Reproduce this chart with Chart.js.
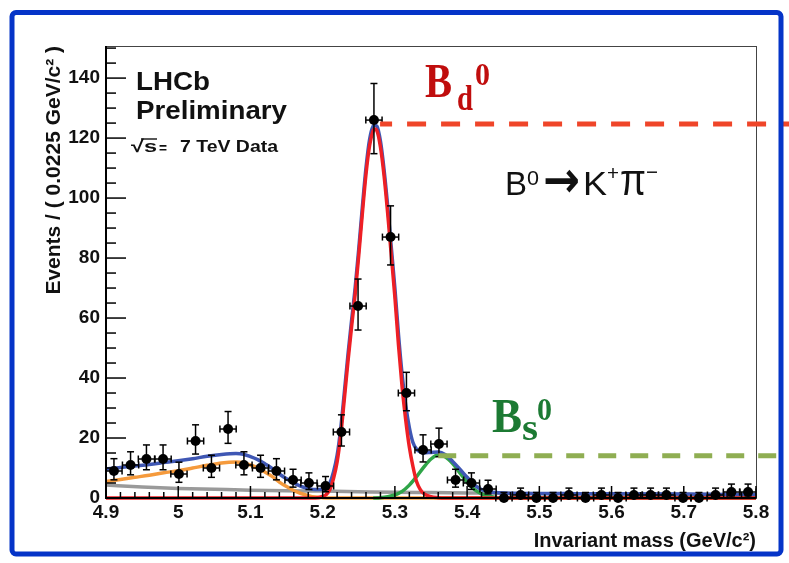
<!DOCTYPE html>
<html>
<head>
<meta charset="utf-8">
<script src="https://cdn.jsdelivr.net/npm/chart.js@4.4.1/dist/chart.umd.min.js"></script>
<style>
  html, body { margin: 0; padding: 0; background: #fff; }
  canvas { display: block; }
</style>
</head>
<body>
<canvas id="massChart" width="789" height="563"></canvas>
<script>
// B0 -> K+ pi- candidates, 0.0225 GeV/c^2 bins
const binCenters = [4.911, 4.934, 4.956, 4.979, 5.001, 5.024, 5.046, 5.069, 5.091, 5.114,
                    5.136, 5.159, 5.181, 5.204, 5.226, 5.249, 5.271, 5.294, 5.316, 5.339,
                    5.361, 5.384, 5.406, 5.429, 5.451, 5.474, 5.496, 5.519, 5.541, 5.564,
                    5.586, 5.609, 5.631, 5.654, 5.676, 5.699, 5.721, 5.744, 5.766, 5.789];
const eventCounts = [9, 11, 13, 13, 8, 19, 10, 23, 11, 10,
                     9, 6, 5, 4, 22, 64, 126, 87, 35, 16,
                     18, 6, 5, 3, 0, 1, 0, 0, 1, 0,
                     1, 0, 1, 1, 1, 0, 0, 1, 2, 2];
const errLow = [2.94, 3.27, 3.58, 3.58, 2.77, 4.35, 3.11, 4.78, 3.27, 3.11,
                2.94, 2.38, 2.16, 1.91, 4.67, 8.0, 11.2, 9.3, 5.9, 3.98,
                4.23, 2.38, 2.16, 1.63, 0, 0.83, 0, 0, 0.83, 0,
                0.83, 0, 0.83, 0.83, 0.83, 0, 0, 0.83, 1.29, 1.29];
const errHigh = [4.11, 4.41, 4.69, 4.69, 3.94, 5.40, 4.26, 5.83, 4.41, 4.26,
                 4.11, 3.58, 3.38, 3.16, 5.73, 9.0, 12.2, 10.4, 6.9, 5.06,
                 5.29, 3.58, 3.38, 2.92, 1.84, 2.30, 1.84, 1.84, 2.30, 1.84,
                 2.30, 1.84, 2.30, 2.30, 2.30, 1.84, 1.84, 2.30, 2.64, 2.64];
const binHalfWidth = 0.01125;

// fit components
const combMass = [4.90, 4.95, 5.00, 5.05, 5.10, 5.15, 5.20, 5.25, 5.30, 5.35,
                  5.40, 5.45, 5.50, 5.55, 5.60, 5.65, 5.70, 5.75, 5.80];
const combValues = [4.3, 3.7, 3.2, 2.9, 2.6, 2.4, 2.3, 2.1, 1.9, 1.8,
                    1.7, 1.6, 1.45, 1.4, 1.35, 1.3, 1.25, 1.15, 1.05];

const partRecoMass = [4.90, 4.92, 4.94, 4.96, 4.98, 5.00, 5.02, 5.04, 5.06, 5.08, 5.09, 5.10,
                      5.11, 5.12, 5.13, 5.14, 5.15, 5.16, 5.17, 5.18, 5.19, 5.20, 5.21, 5.80];
const partRecoValues = [5.5, 6.2, 6.9, 7.6, 8.4, 9.1, 10.0, 10.9, 11.7, 12.0, 11.8, 11.0,
                        10.0, 8.7, 7.2, 5.3, 3.8, 2.5, 1.5, 0.8, 0.3, 0.1, 0, 0];

const bsMass = [5.27, 5.28, 5.29, 5.30, 5.31, 5.32, 5.33, 5.34, 5.35, 5.36,
                5.37, 5.38, 5.39, 5.40, 5.41, 5.42, 5.43, 5.44, 5.45, 5.80];
const bsValues = [0, 0.1, 0.4, 1.0, 2.2, 4.3, 7.1, 10.3, 13.0, 14.3,
                  13.7, 11.5, 8.4, 5.3, 2.9, 1.4, 0.6, 0.2, 0, 0];

const bdMass = [4.90, 5.19, 5.20, 5.205, 5.21, 5.215, 5.22, 5.225, 5.23, 5.235, 5.24, 5.245,
                5.25, 5.255, 5.26, 5.265, 5.27, 5.272, 5.275, 5.28, 5.285, 5.29, 5.295, 5.30,
                5.305, 5.31, 5.315, 5.32, 5.325, 5.33, 5.335, 5.34, 5.35, 5.36, 5.37, 5.80];
const bdValues = [0, 0, 0.5, 1.2, 2.8, 6.5, 12, 21, 33, 45.5, 57, 68,
                  81, 95, 108, 117.5, 122.5, 123, 122.5, 117, 107.5, 95, 81, 67,
                  51, 37, 26, 17, 10.5, 5.5, 2.9, 1.5, 0.4, 0.1, 0, 0];

const totalMass = [4.90, 4.92, 4.94, 4.96, 4.98, 5.00, 5.02, 5.04, 5.06, 5.08,
                   5.09, 5.10, 5.11, 5.12, 5.13, 5.14, 5.15, 5.16, 5.17, 5.18, 5.19, 5.20,
                   5.205, 5.21, 5.215, 5.22, 5.225, 5.23, 5.235, 5.24, 5.245, 5.25, 5.255, 5.26, 5.265,
                   5.27, 5.272, 5.275,
                   5.28, 5.285, 5.29, 5.295, 5.30, 5.305, 5.31, 5.315, 5.32, 5.325, 5.33, 5.335,
                   5.34, 5.35, 5.36, 5.37, 5.38, 5.39, 5.40, 5.41, 5.42, 5.43, 5.44,
                   5.46, 5.50, 5.55, 5.60, 5.65, 5.70, 5.75, 5.80];
const totalValues = [9.6, 10.2, 10.7, 11.2, 11.8, 12.4, 13.1, 13.9, 14.5, 14.8,
                     14.6, 13.8, 12.8, 11.4, 9.9, 8.0, 6.4, 5.0, 3.9, 3.2, 2.8, 2.9,
                     3.5, 5.1, 8.7, 14.2, 23.2, 35.2, 47.7, 59.1, 70.1, 83.1, 97.1, 110.1, 119.6,
                     124.0, 124.3, 124.0,
                     119.0, 109.5, 97.4, 83.6, 70.0, 54.5, 41.2, 31.0, 23.5, 18.5, 16.3, 15.4,
                     15.1, 15.2, 15.3, 14.4, 12.2, 9.6, 6.9, 4.4, 2.8, 2.1, 1.8,
                     1.6, 1.5, 1.45, 1.4, 1.35, 1.3, 1.2, 1.1];

// peak marker levels
const bdLevel = 124.7;
const bsLevel = 14.1;

const xTickValues = [4.9, 5.0, 5.1, 5.2, 5.3, 5.4, 5.5, 5.6, 5.7, 5.8];
const yTickValues = [0, 20, 40, 60, 80, 100, 120, 140];

Chart.defaults.font.family = "'Liberation Sans', Arial, sans-serif";
Chart.defaults.color = '#111';

const toPoints = (xs, ys) => xs.map((m, i) => ({ x: m, y: ys[i] }));

function fitLine(label, xs, ys, color, order) {
    return {
        label: label,
        data: toPoints(xs, ys),
        showLine: true,
        borderColor: color,
        borderWidth: 3.5,
        pointRadius: 0,
        cubicInterpolationMode: 'monotone',
        fill: false,
        clip: false,
        order: order
    };
}

// squeeze or stretch a string horizontally so it spans the given width
function fitText(ctx, str, left, base, font, width, color) {
    ctx.save();
    ctx.font = font;
    ctx.fillStyle = color;
    ctx.textAlign = 'left';
    ctx.textBaseline = 'alphabetic';
    const natural = ctx.measureText(str).width;
    ctx.translate(left, base);
    ctx.scale(width / natural, 1);
    ctx.fillText(str, 0, 0);
    ctx.restore();
}

function segment(ctx, x1, y1, x2, y2) {
    ctx.beginPath();
    ctx.moveTo(x1, y1);
    ctx.lineTo(x2, y2);
    ctx.stroke();
}

const rootFrame = {
    id: 'rootFrame',
    afterDatasetsDraw(chart) {
        const { ctx, chartArea: a, scales: { x, y } } = chart;
        ctx.save();

        // error bars with end caps
        ctx.strokeStyle = '#000';
        ctx.lineWidth = 1.5;
        binCenters.forEach((m, i) => {
            const px = x.getPixelForValue(m);
            const py = y.getPixelForValue(eventCounts[i]);
            const xl = x.getPixelForValue(m - binHalfWidth);
            const xr = x.getPixelForValue(m + binHalfWidth);
            const yt = y.getPixelForValue(eventCounts[i] + errHigh[i]);
            segment(ctx, xl, py, xr, py);
            segment(ctx, xl, py - 3.5, xl, py + 3.5);
            segment(ctx, xr, py - 3.5, xr, py + 3.5);
            segment(ctx, px, py, px, yt);
            segment(ctx, px - 3.5, yt, px + 3.5, yt);
            if (errLow[i] > 0) {
                const yb = y.getPixelForValue(eventCounts[i] - errLow[i]);
                segment(ctx, px, py, px, yb);
                segment(ctx, px - 3.5, yb, px + 3.5, yb);
            }
        });

        // frame
        ctx.strokeStyle = '#444';
        ctx.lineWidth = 1;
        ctx.strokeRect(a.left + 0.5, a.top + 0.5, a.right - a.left, a.bottom - a.top);
        ctx.strokeStyle = '#000';
        ctx.lineWidth = 2;
        segment(ctx, a.left, a.top, a.left, a.bottom + 1);
        segment(ctx, a.left - 1, a.bottom, a.right, a.bottom);

        // inward ticks
        ctx.lineWidth = 1.5;
        for (let i = 0; i <= 45; i++) {
            const px = x.getPixelForValue(4.9 + i * 0.02);
            const len = i % 5 === 0 ? 12 : 6;
            segment(ctx, px, a.bottom, px, a.bottom - len);
        }
        for (let i = 0; i <= 30; i++) {
            const py = y.getPixelForValue(i * 5);
            if (py < a.top + 1) continue;
            const len = i % 4 === 0 ? 20 : 10;
            segment(ctx, a.left, py, a.left + len, py);
        }
        ctx.restore();
    },
    afterDraw(chart) {
        const { ctx, scales: { x, y } } = chart;
        const W = chart.width;
        ctx.save();

        // peak level guides
        ctx.lineWidth = 5;
        ctx.setLineDash([19, 15]);
        ctx.lineDashOffset = 7;
        ctx.strokeStyle = '#ef4529';
        segment(ctx, x.getPixelForValue(5.2795), y.getPixelForValue(bdLevel), W, y.getPixelForValue(bdLevel));
        ctx.setLineDash([18, 14]);
        ctx.lineDashOffset = 0;
        ctx.strokeStyle = '#8fae52';
        segment(ctx, x.getPixelForValue(5.36), y.getPixelForValue(bsLevel), W, y.getPixelForValue(bsLevel));
        ctx.setLineDash([]);

        // experiment label
        const sans = "'Liberation Sans', Arial, sans-serif";
        fitText(ctx, 'LHCb', 136, 90, 'bold 26px ' + sans, 74, '#111');
        fitText(ctx, 'Preliminary', 136, 119, 'bold 26px ' + sans, 151, '#111');
        fitText(ctx, '\u221As', 131, 152, 'bold 17px ' + sans, 26, '#111');
        ctx.strokeStyle = '#111';
        ctx.lineWidth = 1.4;
        segment(ctx, 141, 139, 157, 139);
        fitText(ctx, '=', 159, 153, 'bold 14px ' + sans, 8, '#111');
        fitText(ctx, '7 TeV Data', 180, 152, 'bold 17px ' + sans, 98, '#111');

        // peak names
        const serif = "'Liberation Serif', 'Times New Roman', serif";
        fitText(ctx, 'B', 425, 97, 'bold 48px ' + serif, 27, '#c00d0d');
        fitText(ctx, 'd', 457, 110, 'bold 36px ' + serif, 16, '#c00d0d');
        fitText(ctx, '0', 475, 85, 'bold 32px ' + serif, 15, '#c00d0d');
        fitText(ctx, 'B', 492, 432, 'bold 48px ' + serif, 30, '#1c7a33');
        fitText(ctx, 's', 522, 440, 'bold 38px ' + serif, 16, '#1c7a33');
        fitText(ctx, '0', 537, 420, 'bold 32px ' + serif, 15, '#1c7a33');

        // decay channel
        fitText(ctx, 'B', 505, 195, '34px ' + sans, 22, '#111');
        fitText(ctx, '0', 527, 185, '21px ' + sans, 12, '#111');
        fitText(ctx, '\u2192', 543, 197, "bold 50px 'DejaVu Sans', sans-serif", 37, '#111');
        fitText(ctx, 'K', 583, 195, '34px ' + sans, 24, '#111');
        fitText(ctx, '+', 607, 180, '21px ' + sans, 12, '#111');
        fitText(ctx, '\u03C0', 620, 195, '44px ' + sans, 26, '#111');
        fitText(ctx, '\u2212', 646, 179, '21px ' + sans, 12, '#111');

        // slide border
        ctx.strokeStyle = '#0534c8';
        ctx.lineWidth = 5;
        ctx.beginPath();
        ctx.roundRect(12, 12.5, 769, 541.5, 4);
        ctx.stroke();
        ctx.restore();
    }
};

const massCtx = document.getElementById('massChart').getContext('2d');

const massChart = new Chart(massCtx, {
    type: 'scatter',
    data: {
        datasets: [
            {
                label: 'Data',
                data: toPoints(binCenters, eventCounts),
                showLine: false,
                pointRadius: 5,
                pointBackgroundColor: '#000',
                pointBorderWidth: 0,
                clip: false,
                order: 0
            },
            fitLine('B0 -> K pi', bdMass, bdValues, '#ee1f25', 1),
            fitLine('Total fit', totalMass, totalValues, '#3f57b4', 2),
            fitLine('Bs -> K pi', bsMass, bsValues, '#2fa548', 3),
            fitLine('Partially reconstructed', partRecoMass, partRecoValues, '#f59a3c', 4),
            fitLine('Combinatorial', combMass, combValues, '#9a9a9a', 5)
        ]
    },
    options: {
        responsive: false,
        animation: false,
        events: [],
        layout: { padding: { left: 10, top: 46, right: 33, bottom: 10 } },
        plugins: {
            legend: { display: false },
            tooltip: { enabled: false }
        },
        scales: {
            x: {
                type: 'linear',
                min: 4.9,
                max: 5.8,
                afterBuildTicks: scale => { scale.ticks = xTickValues.map(v => ({ value: v })); },
                afterFit: scale => { scale.height = 55; },
                grid: { display: false, drawTicks: false },
                border: { display: false },
                ticks: {
                    padding: 3,
                    maxRotation: 0,
                    autoSkip: false,
                    font: { size: 19, weight: 'bold' },
                    callback: v => String(Math.round(v * 10) / 10)
                },
                title: {
                    display: true,
                    text: 'Invariant mass (GeV/c\u00B2)',
                    align: 'end',
                    font: { size: 20, weight: 'bold' },
                    padding: { top: 6, bottom: 0 }
                }
            },
            y: {
                type: 'linear',
                min: 0,
                max: 150.7,
                afterBuildTicks: scale => { scale.ticks = yTickValues.map(v => ({ value: v })); },
                afterFit: scale => { scale.width = 96; },
                grid: { display: false, drawTicks: false },
                border: { display: false },
                ticks: {
                    padding: 6,
                    autoSkip: false,
                    font: { size: 19, weight: 'bold' }
                },
                title: {
                    display: true,
                    text: 'Events / ( 0.0225 GeV/c\u00B2 )',
                    align: 'end',
                    font: { size: 21, weight: 'bold' },
                    padding: { top: 32, bottom: 0 }
                }
            }
        }
    },
    plugins: [rootFrame]
});
</script>
</body>
</html>
